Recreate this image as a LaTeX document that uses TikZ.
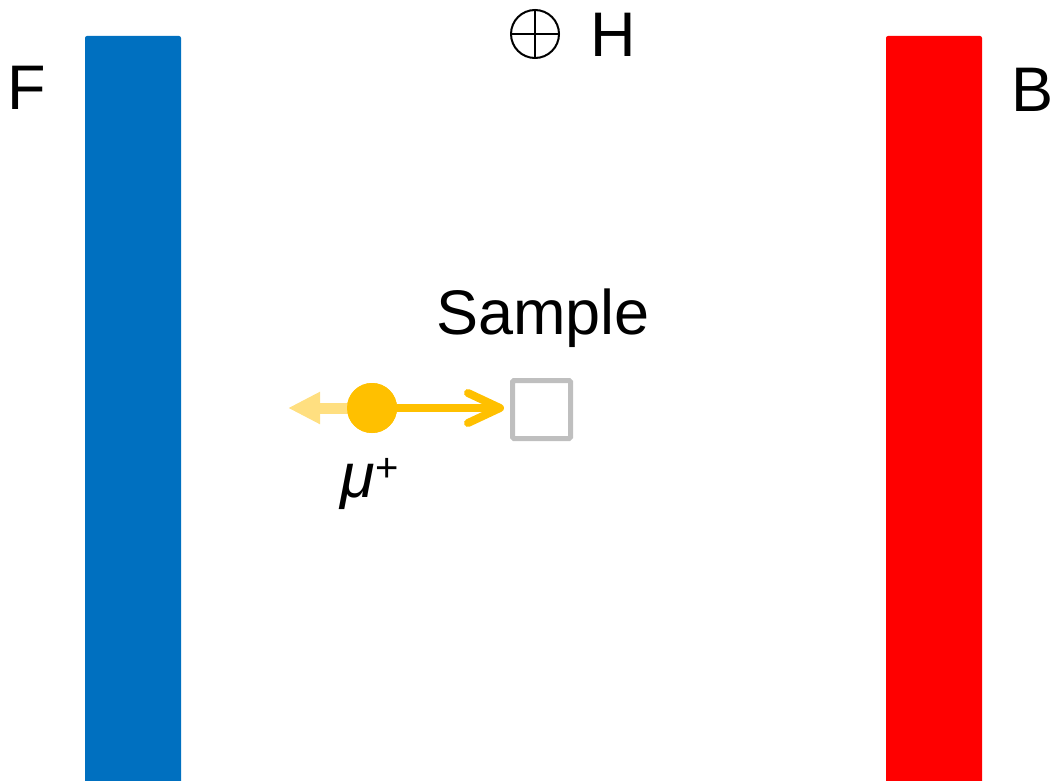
\documentclass[tikz,border=0pt]{standalone}
\usepackage{fontspec}
\setmainfont{Liberation Sans}
\usetikzlibrary{arrows.meta}
\definecolor{barblue}{HTML}{0070C0}
\definecolor{barred}{HTML}{FF0000}
\definecolor{muon}{HTML}{FFC000}
\definecolor{muonlight}{HTML}{FFDF80}
\definecolor{samplegray}{HTML}{BFBFBF}
\tikzset{
  lbl/.style={inner sep=0pt, font=\fontsize{63}{63}\selectfont, text=black},
  bar/.style={rounded corners=2pt, draw=none},
}
\begin{document}
\begin{tikzpicture}[x=1pt,y=-1pt]
\useasboundingbox (0,0) rectangle (1052,781);
% bars
\fill[bar, barblue] (85,36) rectangle (181,790);
\fill[bar, barred] (886,36) rectangle (982,790);
% labels
\node[lbl, anchor=base west] (F) at (7,110) {F};
\node[lbl, anchor=base west] (B) at (1011,112) {B};
\node[lbl, anchor=base west] (H) at (590,57) {H};
% field symbol
\node[circle, draw=black, line width=2pt, minimum size=48pt, inner sep=0pt] (field) at (535,34) {};
\draw[line width=2pt] (field.north) -- (field.south) (field.west) -- (field.east);
% sample
\node[lbl, anchor=base] (samplelabel) at (543,334) {Sample};
\node[draw=samplegray, line width=5pt, rounded corners=1.5pt, minimum size=58pt, inner sep=0pt] (sample) at (541.5,409.5) {};
% muon
\node[circle, fill=muon, minimum size=50pt, inner sep=0pt] (mu) at (372,408) {};
\coordinate (back) at (288,408);
\coordinate (tip) at (500,408);
\draw[muonlight, line width=11pt, -{Triangle[length=32pt,width=30pt]}] (mu.center) -- (back);
\fill[muon] (mu.center) circle (25pt);
\draw[muon, line width=8pt, line cap=round] (mu.east) -- ([xshift=-4pt]tip);
\draw[muon, line width=8pt, line cap=round, line join=round]
  ([xshift=-32pt,yshift=-15pt]tip) -- (tip) -- ([xshift=-32pt,yshift=15pt]tip);
\node[lbl, anchor=base west] (mulabel) at (340,497) {\itshape μ\kern1pt\raisebox{16pt}{\upshape\fontsize{40}{40}\selectfont +}};
\end{tikzpicture}
\end{document}
